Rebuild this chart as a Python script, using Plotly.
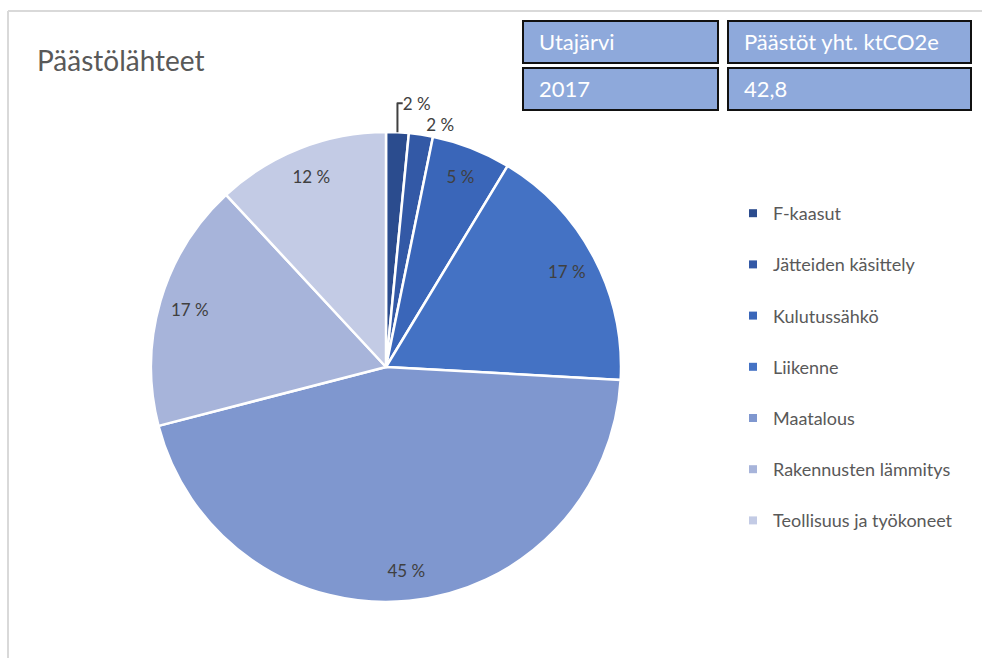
import plotly.graph_objects as go

categories = ["F-kaasut", "Jätteiden käsittely", "Kulutussähkö", "Liikenne",
              "Maatalous", "Rakennusten lämmitys", "Teollisuus ja työkoneet"]
values = [1.55, 1.65, 5.45, 17.2, 45.05, 17.1, 11.9]
colors = ["#2B4C8E", "#3359A6", "#3A66B9", "#4472C4", "#7F97CF", "#A7B4DA", "#C3CBE5"]
text_positions = ["outside", "outside", "inside", "inside", "inside", "inside", "inside"]

table_header = ["Utajärvi", "Päästöt yht. ktCO2e"]
table_row = ["2017", "42,8"]

total = sum(values)
labels_txt = [f"{round(v / total * 100)} %" for v in values]

W, H = 982, 658
FONT = "Lato"
pie_domain = dict(x=[151 / W, 621 / W], y=[1 - 602 / H, 1 - 132 / H])

fig = go.Figure()
# filled slices
fig.add_trace(go.Pie(
    labels=categories, values=values, sort=False, direction="clockwise", rotation=0,
    marker=dict(colors=colors, line=dict(color="white", width=2.5)),
    textinfo="none", showlegend=False, hoverinfo="label+percent",
    domain=pie_domain,
))
# transparent ring carrying the percentage labels near the rim
fig.add_trace(go.Pie(
    labels=categories, values=values, sort=False, direction="clockwise", rotation=0,
    hole=0.74,
    marker=dict(colors=["rgba(0,0,0,0)"] * len(values), line=dict(width=0)),
    text=labels_txt, textinfo="text", textposition=text_positions,
    insidetextorientation="horizontal",
    textfont=dict(family=FONT, size=17, color="#404040"),
    showlegend=False, hoverinfo="skip",
    domain=pie_domain,
))

for name, col in zip(categories, colors):
    fig.add_trace(go.Scatter(
        x=[None], y=[None], mode="markers", name=name, legendgroup=name,
        marker=dict(symbol="square", size=8, color=col), showlegend=True,
    ))

# frame (top and left edges only visible in the reference)
shapes = [
    dict(type="line", xref="paper", yref="paper", x0=8 / W, x1=1, y0=1 - 11 / H, y1=1 - 11 / H,
         line=dict(color="#D9D9D9", width=2), layer="below"),
    dict(type="line", xref="paper", yref="paper", x0=8 / W, x1=8 / W, y0=0, y1=1 - 11 / H,
         line=dict(color="#D9D9D9", width=2), layer="below"),
]
# table boxes
boxes_x = [(523, 718), (728, 971)]
rows_y = [(21, 63), (68, 110)]
annotations = []
for r, row_txt in enumerate([table_header, table_row]):
    for c, txt in enumerate(row_txt):
        x0, x1 = boxes_x[c]
        y0, y1 = rows_y[r]
        shapes.append(dict(type="rect", xref="paper", yref="paper",
                           x0=x0 / W, x1=x1 / W, y0=1 - y1 / H, y1=1 - y0 / H,
                           fillcolor="#8EA9DB", line=dict(color="#111111", width=2)))
        annotations.append(dict(xref="paper", yref="paper", x=(x0 + 14) / W,
                                y=1 - (y0 + y1) / 2 / H, text=txt, showarrow=False,
                                xanchor="left", yanchor="middle",
                                font=dict(family=FONT, size=22, color="white")))

annotations.append(dict(xref="paper", yref="paper", x=35 / W, y=1 - 60 / H,
                        text="Päästölähteet", showarrow=False, xanchor="left",
                        yanchor="middle", font=dict(family=FONT, size=28, color="#595959")))

fig.update_layout(
    width=W, height=H, margin=dict(l=0, r=0, t=0, b=0),
    paper_bgcolor="white", plot_bgcolor="white",
    xaxis=dict(visible=False), yaxis=dict(visible=False),
    shapes=shapes, annotations=annotations,
    legend=dict(x=733 / W, y=1 - 195 / H, xanchor="left", yanchor="top",
                tracegroupgap=24.8, font=dict(family=FONT, size=18, color="#595959"),
                itemwidth=30, bgcolor="rgba(0,0,0,0)"),
    font=dict(family=FONT),
)

fig.write_html("out.html", config={"displayModeBar": False},
               post_script="document.body.style.margin='0';")
